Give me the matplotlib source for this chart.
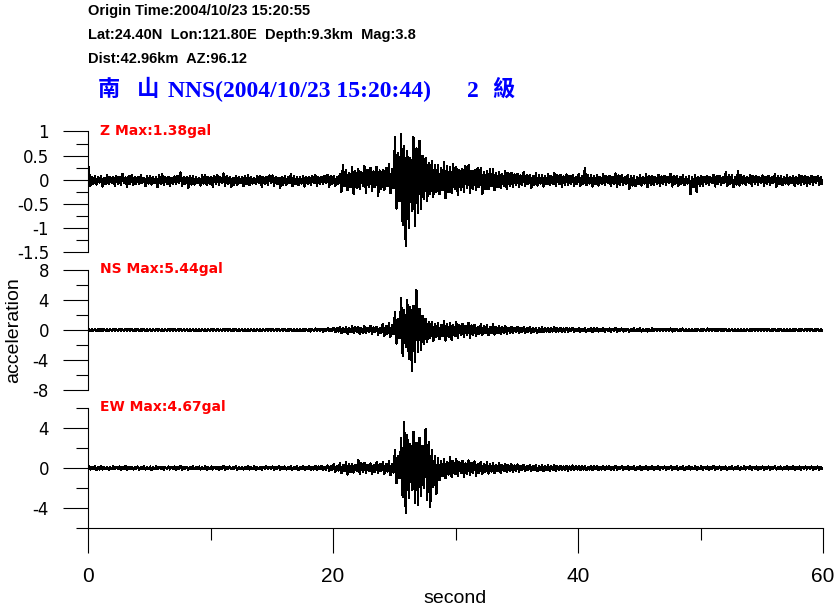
import matplotlib.pyplot as plt
import numpy as np
from matplotlib.ticker import FuncFormatter, MultipleLocator

plt.rcParams["axes.unicode_minus"] = False

W, H = 835, 609
BIN = 0.25  # seconds per envelope bin

# peak values per 0.25 s bin (gal), one row = 5 s
z_hi = [0.25, 0.06, 0.08, 0.05, 0.07, 0.04, 0.10, 0.06, 0.05, 0.08, 0.06, 0.12, 0.05, 0.07, 0.09, 0.05, 0.06, 0.10, 0.04, 0.07,
        0.08, 0.05, 0.06, 0.09, 0.11, 0.05, 0.06, 0.04, 0.07, 0.08, 0.15, 0.06, 0.05, 0.07, 0.08, 0.05, 0.04, 0.09, 0.10, 0.06,
        0.06, 0.08, 0.09, 0.05, 0.13, 0.07, 0.05, 0.04, 0.07, 0.06, 0.05, 0.08, 0.10, 0.06, 0.04, 0.07, 0.08, 0.05, 0.06, 0.09,
        0.09, 0.05, 0.04, 0.06, 0.07, 0.05, 0.11, 0.08, 0.06, 0.05, 0.08, 0.06, 0.05, 0.07, 0.09, 0.05, 0.06, 0.08, 0.10, 0.07,
        0.07, 0.05, 0.12, 0.30, 0.20, 0.14, 0.26, 0.18, 0.22, 0.15, 0.28, 0.20, 0.24, 0.17, 0.27, 0.19, 0.21, 0.25, 0.33, 0.22,
        0.88, 0.55, 0.95, 0.70, 0.60, 0.45, 0.88, 0.65, 0.80, 0.50, 0.45, 0.35, 0.38, 0.30, 0.30, 0.24, 0.36, 0.28, 0.26, 0.32,
        0.27, 0.20, 0.22, 0.28, 0.30, 0.18, 0.20, 0.25, 0.25, 0.16, 0.18, 0.22, 0.22, 0.14, 0.15, 0.12, 0.18, 0.13, 0.14, 0.11,
        0.12, 0.09, 0.16, 0.10, 0.10, 0.08, 0.13, 0.09, 0.09, 0.07, 0.12, 0.08, 0.14, 0.10, 0.10, 0.07, 0.11, 0.08, 0.09, 0.06,
        0.12, 0.08, 0.24, 0.10, 0.10, 0.07, 0.09, 0.06, 0.11, 0.08, 0.08, 0.06, 0.13, 0.09, 0.09, 0.06, 0.10, 0.07, 0.08, 0.05,
        0.09, 0.06, 0.11, 0.08, 0.07, 0.05, 0.10, 0.07, 0.08, 0.06, 0.12, 0.08, 0.08, 0.05, 0.09, 0.06, 0.07, 0.05, 0.10, 0.06,
        0.08, 0.06, 0.07, 0.05, 0.10, 0.07, 0.08, 0.06, 0.15, 0.09, 0.09, 0.06, 0.17, 0.10, 0.08, 0.05, 0.10, 0.07, 0.07, 0.05,
        0.09, 0.06, 0.08, 0.05, 0.11, 0.07, 0.07, 0.05, 0.09, 0.06, 0.08, 0.05, 0.10, 0.07, 0.07, 0.05, 0.08, 0.06, 0.07, 0.05]
z_lo = [-0.12, -0.08, -0.10, -0.06, -0.14, -0.09, -0.09, -0.07, -0.12, -0.08, -0.10, -0.07, -0.15, -0.09, -0.11, -0.08, -0.09, -0.06, -0.13, -0.08,
        -0.10, -0.07, -0.16, -0.09, -0.11, -0.08, -0.13, -0.09, -0.09, -0.07, -0.12, -0.08, -0.18, -0.10, -0.10, -0.07, -0.12, -0.08, -0.11, -0.08,
        -0.14, -0.09, -0.10, -0.07, -0.12, -0.08, -0.16, -0.10, -0.10, -0.07, -0.13, -0.09, -0.11, -0.08, -0.09, -0.06, -0.14, -0.09, -0.10, -0.07,
        -0.12, -0.08, -0.17, -0.10, -0.10, -0.07, -0.13, -0.09, -0.11, -0.08, -0.14, -0.09, -0.10, -0.07, -0.12, -0.08, -0.09, -0.07, -0.15, -0.09,
        -0.12, -0.08, -0.25, -0.14, -0.22, -0.15, -0.30, -0.18, -0.20, -0.13, -0.27, -0.16, -0.24, -0.15, -0.33, -0.20, -0.22, -0.14, -0.28, -0.18,
        -0.60, -0.45, -0.93, -1.38, -1.00, -0.65, -0.97, -0.70, -0.60, -0.40, -0.45, -0.30, -0.35, -0.25, -0.30, -0.22, -0.38, -0.26, -0.28, -0.20,
        -0.32, -0.22, -0.25, -0.18, -0.28, -0.20, -0.22, -0.15, -0.30, -0.20, -0.20, -0.14, -0.22, -0.15, -0.18, -0.12, -0.20, -0.13, -0.16, -0.11,
        -0.15, -0.10, -0.13, -0.09, -0.17, -0.11, -0.12, -0.08, -0.14, -0.09, -0.11, -0.08, -0.13, -0.09, -0.15, -0.10, -0.11, -0.08, -0.12, -0.08,
        -0.13, -0.09, -0.11, -0.08, -0.14, -0.09, -0.12, -0.08, -0.10, -0.07, -0.13, -0.09, -0.15, -0.10, -0.11, -0.08, -0.20, -0.12, -0.13, -0.09,
        -0.12, -0.08, -0.16, -0.10, -0.11, -0.08, -0.13, -0.09, -0.10, -0.07, -0.14, -0.09, -0.12, -0.08, -0.11, -0.08, -0.30, -0.15, -0.25, -0.12,
        -0.12, -0.08, -0.11, -0.07, -0.14, -0.09, -0.10, -0.07, -0.13, -0.09, -0.16, -0.10, -0.12, -0.08, -0.11, -0.07, -0.13, -0.09, -0.10, -0.07,
        -0.12, -0.08, -0.10, -0.07, -0.15, -0.09, -0.11, -0.08, -0.10, -0.07, -0.13, -0.09, -0.11, -0.08, -0.12, -0.08, -0.10, -0.07, -0.11, -0.08]

ns_hi = [0.15, 0.10, 0.12, 0.08, 0.18, 0.11, 0.10, 0.07, 0.14, 0.09, 0.12, 0.08, 0.16, 0.10, 0.11, 0.07, 0.13, 0.09, 0.15, 0.10,
         0.12, 0.08, 0.17, 0.11, 0.10, 0.07, 0.14, 0.09, 0.12, 0.08, 0.15, 0.10, 0.11, 0.07, 0.13, 0.09, 0.16, 0.10, 0.12, 0.08,
         0.14, 0.09, 0.11, 0.07, 0.15, 0.10, 0.12, 0.08, 0.18, 0.11, 0.13, 0.09, 0.11, 0.07, 0.14, 0.09, 0.12, 0.08, 0.16, 0.10,
         0.12, 0.08, 0.15, 0.10, 0.13, 0.09, 0.17, 0.11, 0.14, 0.09, 0.18, 0.12, 0.15, 0.10, 0.20, 0.13, 0.18, 0.12, 0.22, 0.14,
         0.30, 0.20, 0.45, 0.28, 0.38, 0.25, 0.52, 0.33, 0.40, 0.26, 0.48, 0.30, 0.55, 0.35, 0.45, 0.30, 0.80, 0.50, 0.90, 0.60,
         2.40, 1.50, 4.20, 2.60, 4.00, 3.00, 3.20, 5.30, 2.80, 1.90, 1.50, 1.00, 1.10, 0.75, 0.95, 0.65, 1.20, 0.80, 0.90, 0.60,
         1.00, 0.65, 0.80, 0.55, 0.95, 0.60, 0.70, 0.45, 0.75, 0.50, 0.60, 0.40, 0.75, 0.45, 0.55, 0.35, 0.50, 0.32, 0.45, 0.30,
         0.45, 0.30, 0.38, 0.25, 0.42, 0.28, 0.32, 0.22, 0.36, 0.24, 0.30, 0.20, 0.33, 0.22, 0.28, 0.19, 0.30, 0.20, 0.26, 0.17,
         0.28, 0.18, 0.25, 0.16, 0.30, 0.19, 0.22, 0.15, 0.26, 0.17, 0.20, 0.13, 0.24, 0.16, 0.21, 0.14, 0.18, 0.12, 0.22, 0.14,
         0.20, 0.13, 0.17, 0.11, 0.22, 0.14, 0.18, 0.12, 0.16, 0.10, 0.20, 0.13, 0.17, 0.11, 0.19, 0.12, 0.15, 0.10, 0.18, 0.12,
         0.16, 0.10, 0.19, 0.12, 0.15, 0.10, 0.18, 0.12, 0.16, 0.10, 0.14, 0.09, 0.17, 0.11, 0.15, 0.10, 0.18, 0.12, 0.14, 0.09,
         0.16, 0.10, 0.13, 0.09, 0.17, 0.11, 0.15, 0.10, 0.14, 0.09, 0.16, 0.10, 0.13, 0.09, 0.18, 0.12, 0.14, 0.09, 0.15, 0.10]
ns_lo = [-0.12, -0.08, -0.15, -0.10, -0.10, -0.07, -0.14, -0.09, -0.12, -0.08, -0.16, -0.10, -0.11, -0.07, -0.13, -0.09, -0.15, -0.10, -0.12, -0.08,
         -0.14, -0.09, -0.11, -0.07, -0.16, -0.10, -0.12, -0.08, -0.15, -0.10, -0.10, -0.07, -0.13, -0.09, -0.17, -0.11, -0.12, -0.08, -0.14, -0.09,
         -0.12, -0.08, -0.15, -0.10, -0.11, -0.07, -0.14, -0.09, -0.13, -0.09, -0.16, -0.10, -0.12, -0.08, -0.14, -0.09, -0.18, -0.11, -0.13, -0.09,
         -0.15, -0.10, -0.12, -0.08, -0.16, -0.10, -0.14, -0.09, -0.17, -0.11, -0.15, -0.10, -0.19, -0.12, -0.16, -0.10, -0.20, -0.13, -0.18, -0.12,
         -0.32, -0.20, -0.40, -0.26, -0.50, -0.32, -0.42, -0.27, -0.55, -0.35, -0.45, -0.29, -0.50, -0.32, -0.60, -0.38, -0.75, -0.48, -0.90, -0.58,
         -1.80, -1.10, -3.40, -2.20, -3.80, -5.40, -4.30, -2.90, -2.70, -1.80, -1.60, -1.00, -1.50, -0.95, -1.20, -0.80, -1.40, -0.90, -1.30, -0.85,
         -1.10, -0.70, -0.90, -0.60, -1.00, -0.65, -0.80, -0.52, -0.70, -0.45, -0.65, -0.42, -0.60, -0.40, -0.55, -0.36, -0.50, -0.33, -0.45, -0.30,
         -0.42, -0.28, -0.40, -0.26, -0.36, -0.24, -0.35, -0.23, -0.32, -0.21, -0.30, -0.20, -0.28, -0.19, -0.30, -0.20, -0.26, -0.17, -0.25, -0.16,
         -0.26, -0.17, -0.22, -0.15, -0.25, -0.16, -0.21, -0.14, -0.24, -0.16, -0.20, -0.13, -0.22, -0.15, -0.19, -0.12, -0.21, -0.14, -0.18, -0.12,
         -0.19, -0.12, -0.20, -0.13, -0.17, -0.11, -0.18, -0.12, -0.16, -0.10, -0.19, -0.12, -0.17, -0.11, -0.15, -0.10, -0.18, -0.12, -0.16, -0.10,
         -0.17, -0.11, -0.15, -0.10, -0.18, -0.12, -0.14, -0.09, -0.16, -0.10, -0.17, -0.11, -0.15, -0.10, -0.14, -0.09, -0.16, -0.10, -0.15, -0.10,
         -0.14, -0.09, -0.16, -0.10, -0.15, -0.10, -0.13, -0.09, -0.17, -0.11, -0.14, -0.09, -0.15, -0.10, -0.13, -0.09, -0.16, -0.10, -0.14, -0.09]

ew_hi = [0.20, 0.12, 0.15, 0.10, 0.18, 0.11, 0.12, 0.08, 0.16, 0.10, 0.14, 0.09, 0.19, 0.12, 0.13, 0.09, 0.15, 0.10, 0.17, 0.11,
         0.14, 0.09, 0.18, 0.12, 0.12, 0.08, 0.16, 0.10, 0.15, 0.10, 0.20, 0.13, 0.13, 0.09, 0.17, 0.11, 0.14, 0.09, 0.16, 0.10,
         0.15, 0.10, 0.13, 0.09, 0.18, 0.12, 0.14, 0.09, 0.16, 0.10, 0.12, 0.08, 0.17, 0.11, 0.15, 0.10, 0.13, 0.09, 0.18, 0.12,
         0.14, 0.09, 0.17, 0.11, 0.15, 0.10, 0.19, 0.12, 0.16, 0.10, 0.20, 0.13, 0.18, 0.12, 0.22, 0.14, 0.19, 0.12, 0.25, 0.16,
         0.35, 0.22, 0.45, 0.28, 0.55, 0.35, 0.40, 0.25, 0.80, 0.45, 0.50, 0.32, 0.45, 0.28, 0.60, 0.38, 0.55, 0.35, 0.65, 0.40,
         1.80, 1.20, 3.00, 4.60, 3.30, 2.40, 3.60, 2.50, 3.00, 2.20, 3.90, 2.60, 1.80, 1.20, 1.00, 0.70, 0.90, 0.60, 1.10, 0.70,
         0.85, 0.55, 0.70, 0.45, 0.75, 0.50, 0.65, 0.42, 0.60, 0.40, 0.55, 0.36, 0.50, 0.33, 0.45, 0.30, 0.40, 0.27, 0.38, 0.25,
         0.35, 0.23, 0.32, 0.21, 0.30, 0.20, 0.28, 0.19, 0.30, 0.20, 0.25, 0.17, 0.27, 0.18, 0.24, 0.16, 0.22, 0.15, 0.25, 0.16,
         0.22, 0.15, 0.20, 0.13, 0.23, 0.15, 0.19, 0.13, 0.21, 0.14, 0.18, 0.12, 0.20, 0.13, 0.17, 0.11, 0.19, 0.13, 0.18, 0.12,
         0.17, 0.11, 0.19, 0.12, 0.16, 0.11, 0.18, 0.12, 0.15, 0.10, 0.17, 0.11, 0.19, 0.12, 0.16, 0.10, 0.18, 0.12, 0.15, 0.10,
         0.17, 0.11, 0.15, 0.10, 0.18, 0.12, 0.16, 0.10, 0.14, 0.09, 0.17, 0.11, 0.15, 0.10, 0.18, 0.12, 0.16, 0.10, 0.14, 0.09,
         0.16, 0.10, 0.15, 0.10, 0.17, 0.11, 0.14, 0.09, 0.16, 0.10, 0.18, 0.12, 0.15, 0.10, 0.16, 0.10, 0.14, 0.09, 0.15, 0.10]
ew_lo = [-0.15, -0.10, -0.22, -0.14, -0.14, -0.09, -0.18, -0.12, -0.13, -0.09, -0.16, -0.10, -0.20, -0.13, -0.14, -0.09, -0.17, -0.11, -0.15, -0.10,
         -0.18, -0.12, -0.13, -0.09, -0.16, -0.10, -0.14, -0.09, -0.19, -0.12, -0.15, -0.10, -0.17, -0.11, -0.13, -0.09, -0.16, -0.10, -0.18, -0.12,
         -0.14, -0.09, -0.17, -0.11, -0.15, -0.10, -0.13, -0.09, -0.18, -0.12, -0.16, -0.10, -0.14, -0.09, -0.19, -0.12, -0.15, -0.10, -0.13, -0.09,
         -0.16, -0.10, -0.18, -0.12, -0.14, -0.09, -0.17, -0.11, -0.20, -0.13, -0.18, -0.12, -0.22, -0.14, -0.19, -0.12, -0.24, -0.15, -0.28, -0.18,
         -0.40, -0.25, -0.50, -0.32, -0.65, -0.40, -0.45, -0.28, -0.55, -0.35, -0.48, -0.30, -0.60, -0.38, -0.50, -0.32, -0.55, -0.35, -0.70, -0.45,
         -1.50, -1.00, -2.90, -4.50, -3.00, -2.20, -3.50, -3.70, -2.80, -2.00, -3.20, -3.90, -1.90, -2.60, -1.20, -0.80, -1.00, -0.65, -0.90, -0.60,
         -0.80, -0.52, -0.90, -0.58, -0.70, -0.45, -0.75, -0.48, -0.60, -0.40, -0.55, -0.36, -0.50, -0.33, -0.48, -0.31, -0.42, -0.28, -0.40, -0.26,
         -0.36, -0.24, -0.33, -0.22, -0.30, -0.20, -0.32, -0.21, -0.28, -0.19, -0.26, -0.17, -0.28, -0.19, -0.24, -0.16, -0.25, -0.17, -0.22, -0.15,
         -0.22, -0.15, -0.24, -0.16, -0.20, -0.13, -0.21, -0.14, -0.19, -0.13, -0.22, -0.15, -0.18, -0.12, -0.20, -0.13, -0.17, -0.11, -0.19, -0.13,
         -0.18, -0.12, -0.16, -0.11, -0.19, -0.12, -0.17, -0.11, -0.15, -0.10, -0.18, -0.12, -0.16, -0.10, -0.19, -0.12, -0.15, -0.10, -0.17, -0.11,
         -0.16, -0.10, -0.18, -0.12, -0.15, -0.10, -0.17, -0.11, -0.19, -0.12, -0.15, -0.10, -0.17, -0.11, -0.14, -0.09, -0.16, -0.10, -0.18, -0.12,
         -0.15, -0.10, -0.17, -0.11, -0.14, -0.09, -0.16, -0.10, -0.15, -0.10, -0.17, -0.11, -0.16, -0.10, -0.14, -0.09, -0.17, -0.11, -0.15, -0.10]

header_lines = ["Origin Time:2004/10/23 15:20:55",
                "Lat:24.40N  Lon:121.80E  Depth:9.3km  Mag:3.8",
                "Dist:42.96km  AZ:96.12"]
station_name = ["南", "山"]
station_info = "NNS(2004/10/23 15:20:44)"
intensity = ["2", "級"]
max_labels = ["Z Max:1.38gal", "NS Max:5.44gal", "EW Max:4.67gal"]


def fx(px):
    return px / W


def fy(py):
    return 1 - py / H


def zigzag(hi, lo):
    start = np.arange(len(hi)) * BIN
    t = np.column_stack([start + BIN * 0.25, start + BIN * 0.75]).ravel()
    y = np.column_stack([hi, lo]).ravel()
    return t, y


fig = plt.figure(figsize=(W / 100, H / 100), dpi=100)

# panel extents in pixels (top, bottom)
rows = [(131.5, 252), (270, 390), (408, 528)]
limits = [(-1.5, 1), (-8, 8), (-6, 6)]
steps = [(0.5, 0.25), (4, 2), (4, 2)]
series = [(z_hi, z_lo), (ns_hi, ns_lo), (ew_hi, ew_lo)]
label_base = [134.5, 272.5, 411]

for i, ((top, bot), lim, (maj, mnr), (hi, lo)) in enumerate(zip(rows, limits, steps, series)):
    ax = fig.add_axes([fx(88), fy(bot), fx(823 - 88), (bot - top) / H])
    t, y = zigzag(hi, lo)
    ax.plot(t, y, color="black", lw=0.9, antialiased=False)
    ax.set_xlim(0, 60)
    ax.set_ylim(*lim)
    ax.yaxis.set_major_locator(MultipleLocator(maj))
    ax.yaxis.set_minor_locator(MultipleLocator(mnr))
    ax.yaxis.set_major_formatter(FuncFormatter(lambda v, p: f"{v:g}"))
    ax.tick_params(axis="y", which="major", length=18, width=0.8, pad=10, labelsize=12)
    ax.tick_params(axis="y", which="minor", length=8.6, width=0.8)
    for side in ["top", "right"]:
        ax.spines[side].set_visible(False)
    ax.spines["left"].set_linewidth(0.8)
    if i < 2:
        ax.spines["bottom"].set_visible(False)
        ax.tick_params(axis="x", which="both", bottom=False, labelbottom=False)
    else:
        ax.spines["bottom"].set_linewidth(0.8)
        ax.xaxis.set_major_locator(MultipleLocator(20))
        ax.xaxis.set_minor_locator(MultipleLocator(10))
        ax.tick_params(axis="x", which="major", length=18, width=0.8, pad=10,
                       labelsize=15, labelfontfamily="Liberation Sans")
        ax.tick_params(axis="x", which="minor", length=8.6, width=0.8)
    fig.text(fx(100), fy(label_base[i]), max_labels[i], color="red", fontsize=10,
             fontweight="bold", family="DejaVu Sans", va="baseline")

fig.text(fx(455.5), fy(603), "second", fontsize=14, family="Liberation Sans",
         ha="center", va="baseline")
fig.text(fx(14), fy(330), "acceleration", fontsize=14, family="Liberation Sans",
         rotation=90, ha="center", va="center")

for line, base in zip(header_lines, [15, 38.5, 62.7]):
    fig.text(fx(88), fy(base), line, fontsize=10.5, fontweight="bold",
             family="Liberation Sans", va="baseline")

blue = "#0000ff"
for ch, left in zip(station_name, [98, 137]):
    fig.text(fx(left), fy(96), ch, fontsize=16, fontweight="bold", color=blue,
             family="Noto Sans CJK TC", va="baseline")
fig.text(fx(168), fy(97), station_info, fontsize=17, fontweight="bold", color=blue,
         family="Liberation Serif", va="baseline")
fig.text(fx(467), fy(97), intensity[0], fontsize=17, fontweight="bold", color=blue,
         family="Liberation Serif", va="baseline")
fig.text(fx(492), fy(96), intensity[1], fontsize=16, fontweight="bold", color=blue,
         family="Noto Sans CJK TC", va="baseline")

fig.savefig("out.png", dpi=100)
